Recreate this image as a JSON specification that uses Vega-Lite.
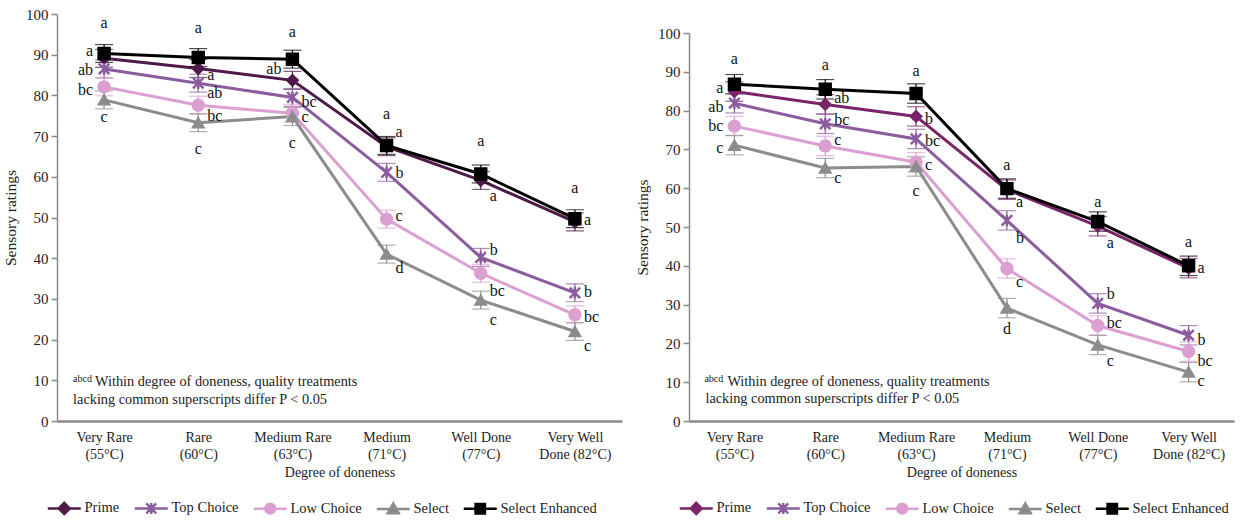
{
  "$schema": "https://vega.github.io/schema/vega-lite/v6.json",
  "background": "white",
  "padding": {"left": 3, "top": 7, "right": 2, "bottom": 2},
  "config": {
    "font": "Liberation Serif",
    "view": {"stroke": null},
    "concat": {"spacing": 13},
    "text": {"font": "Liberation Serif", "fontWeight": "normal"},
    "axis": {"labelFont": "Liberation Serif", "titleFont": "Liberation Serif", "labelFontSize": 14, "titleFontSize": 14, "titleFontWeight": "normal", "labelColor": "#222", "titleColor": "#222", "domainColor": "#8a8a8a", "tickColor": "#8a8a8a", "grid": false},
    "axisX": {"ticks": false, "domainWidth": 2.5, "labelAngle": 0, "labelPadding": 9, "titlePadding": 4, "labelLineHeight": 17, "labelBaseline": "top"},
    "axisY": {"domainWidth": 1.5, "tickSize": 6, "tickWidth": 1.5, "values": [0, 10, 20, 30, 40, 50, 60, 70, 80, 90, 100], "titlePadding": 7, "titleFontSize": 15.5, "labelFontSize": 15, "labelPadding": 3},
    "legend": {"labelFont": "Liberation Serif", "labelFontSize": 14.5, "labelColor": "#222", "orient": "bottom", "direction": "horizontal", "symbolSize": 121, "symbolStrokeWidth": 2.5, "symbolOpacity": 1, "labelOffset": 13, "columnPadding": 9, "offset": 22}
  },
  "datasets": {
    "leftData": [
      {"doneness": "Very Rare (55°C)", "series": "Prime", "rating": 89.1, "se": 2.2},
      {"doneness": "Rare (60°C)", "series": "Prime", "rating": 86.6, "se": 2.2},
      {"doneness": "Medium Rare (63°C)", "series": "Prime", "rating": 83.7, "se": 2.2},
      {"doneness": "Medium (71°C)", "series": "Prime", "rating": 67.4, "se": 2.2},
      {"doneness": "Well Done (77°C)", "series": "Prime", "rating": 59.1, "se": 2.2},
      {"doneness": "Very Well Done (82°C)", "series": "Prime", "rating": 48.9, "se": 2.2},
      {"doneness": "Very Rare (55°C)", "series": "Top Choice", "rating": 86.5, "se": 2.2},
      {"doneness": "Rare (60°C)", "series": "Top Choice", "rating": 83.0, "se": 2.2},
      {"doneness": "Medium Rare (63°C)", "series": "Top Choice", "rating": 79.5, "se": 2.2},
      {"doneness": "Medium (71°C)", "series": "Top Choice", "rating": 61.1, "se": 2.2},
      {"doneness": "Well Done (77°C)", "series": "Top Choice", "rating": 40.2, "se": 2.2},
      {"doneness": "Very Well Done (82°C)", "series": "Top Choice", "rating": 31.5, "se": 2.2},
      {"doneness": "Very Rare (55°C)", "series": "Low Choice", "rating": 82.1, "se": 2.2},
      {"doneness": "Rare (60°C)", "series": "Low Choice", "rating": 77.6, "se": 2.2},
      {"doneness": "Medium Rare (63°C)", "series": "Low Choice", "rating": 75.6, "se": 2.2},
      {"doneness": "Medium (71°C)", "series": "Low Choice", "rating": 49.6, "se": 2.2},
      {"doneness": "Well Done (77°C)", "series": "Low Choice", "rating": 36.3, "se": 2.2},
      {"doneness": "Very Well Done (82°C)", "series": "Low Choice", "rating": 26.1, "se": 2.2},
      {"doneness": "Very Rare (55°C)", "series": "Select", "rating": 78.9, "se": 2.2},
      {"doneness": "Rare (60°C)", "series": "Select", "rating": 73.3, "se": 2.2},
      {"doneness": "Medium Rare (63°C)", "series": "Select", "rating": 74.8, "se": 2.2},
      {"doneness": "Medium (71°C)", "series": "Select", "rating": 41.0, "se": 2.2},
      {"doneness": "Well Done (77°C)", "series": "Select", "rating": 29.7, "se": 2.2},
      {"doneness": "Very Well Done (82°C)", "series": "Select", "rating": 22.0, "se": 2.2},
      {"doneness": "Very Rare (55°C)", "series": "Select Enhanced", "rating": 90.3, "se": 2.2},
      {"doneness": "Rare (60°C)", "series": "Select Enhanced", "rating": 89.3, "se": 2.2},
      {"doneness": "Medium Rare (63°C)", "series": "Select Enhanced", "rating": 88.9, "se": 2.2},
      {"doneness": "Medium (71°C)", "series": "Select Enhanced", "rating": 67.7, "se": 2.2},
      {"doneness": "Well Done (77°C)", "series": "Select Enhanced", "rating": 60.7, "se": 2.2},
      {"doneness": "Very Well Done (82°C)", "series": "Select Enhanced", "rating": 49.7, "se": 2.2}
    ],
    "rightData": [
      {"doneness": "Very Rare (55°C)", "series": "Prime", "rating": 84.9, "se": 2.5},
      {"doneness": "Rare (60°C)", "series": "Prime", "rating": 81.6, "se": 2.5},
      {"doneness": "Medium Rare (63°C)", "series": "Prime", "rating": 78.5, "se": 2.5},
      {"doneness": "Medium (71°C)", "series": "Prime", "rating": 59.6, "se": 2.5},
      {"doneness": "Well Done (77°C)", "series": "Prime", "rating": 50.2, "se": 2.5},
      {"doneness": "Very Well Done (82°C)", "series": "Prime", "rating": 39.4, "se": 2.5},
      {"doneness": "Very Rare (55°C)", "series": "Top Choice", "rating": 81.9, "se": 2.5},
      {"doneness": "Rare (60°C)", "series": "Top Choice", "rating": 76.6, "se": 2.5},
      {"doneness": "Medium Rare (63°C)", "series": "Top Choice", "rating": 72.7, "se": 2.5},
      {"doneness": "Medium (71°C)", "series": "Top Choice", "rating": 51.7, "se": 2.5},
      {"doneness": "Well Done (77°C)", "series": "Top Choice", "rating": 30.3, "se": 2.5},
      {"doneness": "Very Well Done (82°C)", "series": "Top Choice", "rating": 22.1, "se": 2.5},
      {"doneness": "Very Rare (55°C)", "series": "Low Choice", "rating": 76.0, "se": 2.5},
      {"doneness": "Rare (60°C)", "series": "Low Choice", "rating": 70.9, "se": 2.5},
      {"doneness": "Medium Rare (63°C)", "series": "Low Choice", "rating": 66.7, "se": 2.5},
      {"doneness": "Medium (71°C)", "series": "Low Choice", "rating": 39.3, "se": 2.5},
      {"doneness": "Well Done (77°C)", "series": "Low Choice", "rating": 24.6, "se": 2.5},
      {"doneness": "Very Well Done (82°C)", "series": "Low Choice", "rating": 17.9, "se": 2.5},
      {"doneness": "Very Rare (55°C)", "series": "Select", "rating": 71.1, "se": 2.5},
      {"doneness": "Rare (60°C)", "series": "Select", "rating": 65.2, "se": 2.5},
      {"doneness": "Medium Rare (63°C)", "series": "Select", "rating": 65.6, "se": 2.5},
      {"doneness": "Medium (71°C)", "series": "Select", "rating": 29.1, "se": 2.5},
      {"doneness": "Well Done (77°C)", "series": "Select", "rating": 19.6, "se": 2.5},
      {"doneness": "Very Well Done (82°C)", "series": "Select", "rating": 12.6, "se": 2.5},
      {"doneness": "Very Rare (55°C)", "series": "Select Enhanced", "rating": 86.8, "se": 2.5},
      {"doneness": "Rare (60°C)", "series": "Select Enhanced", "rating": 85.5, "se": 2.5},
      {"doneness": "Medium Rare (63°C)", "series": "Select Enhanced", "rating": 84.4, "se": 2.5},
      {"doneness": "Medium (71°C)", "series": "Select Enhanced", "rating": 59.9, "se": 2.5},
      {"doneness": "Well Done (77°C)", "series": "Select Enhanced", "rating": 51.4, "se": 2.5},
      {"doneness": "Very Well Done (82°C)", "series": "Select Enhanced", "rating": 40.0, "se": 2.5}
    ],
    "leftLetters": [
      {"doneness": "Very Rare (55°C)", "letter": "a", "ly": 97.7, "side": "center"},
      {"doneness": "Very Rare (55°C)", "letter": "a", "ly": 90.9, "side": "left"},
      {"doneness": "Very Rare (55°C)", "letter": "ab", "ly": 86.2, "side": "left"},
      {"doneness": "Very Rare (55°C)", "letter": "bc", "ly": 81.3, "side": "left"},
      {"doneness": "Very Rare (55°C)", "letter": "c", "ly": 74.7, "side": "center"},
      {"doneness": "Rare (60°C)", "letter": "a", "ly": 96.5, "side": "center"},
      {"doneness": "Rare (60°C)", "letter": "a", "ly": 85.1, "side": "right"},
      {"doneness": "Rare (60°C)", "letter": "ab", "ly": 80.5, "side": "right"},
      {"doneness": "Rare (60°C)", "letter": "bc", "ly": 75.0, "side": "right"},
      {"doneness": "Rare (60°C)", "letter": "c", "ly": 66.9, "side": "center"},
      {"doneness": "Medium Rare (63°C)", "letter": "a", "ly": 95.5, "side": "center"},
      {"doneness": "Medium Rare (63°C)", "letter": "ab", "ly": 86.5, "side": "left"},
      {"doneness": "Medium Rare (63°C)", "letter": "bc", "ly": 78.3, "side": "right"},
      {"doneness": "Medium Rare (63°C)", "letter": "c", "ly": 74.7, "side": "right"},
      {"doneness": "Medium Rare (63°C)", "letter": "c", "ly": 68.2, "side": "center"},
      {"doneness": "Medium (71°C)", "letter": "a", "ly": 75.5, "side": "center"},
      {"doneness": "Medium (71°C)", "letter": "a", "ly": 71.0, "side": "right"},
      {"doneness": "Medium (71°C)", "letter": "b", "ly": 61.0, "side": "right"},
      {"doneness": "Medium (71°C)", "letter": "c", "ly": 50.4, "side": "right"},
      {"doneness": "Medium (71°C)", "letter": "d", "ly": 37.6, "side": "right"},
      {"doneness": "Well Done (77°C)", "letter": "a", "ly": 68.7, "side": "center"},
      {"doneness": "Well Done (77°C)", "letter": "a", "ly": 55.4, "side": "right"},
      {"doneness": "Well Done (77°C)", "letter": "b", "ly": 41.9, "side": "right"},
      {"doneness": "Well Done (77°C)", "letter": "bc", "ly": 32.0, "side": "right"},
      {"doneness": "Well Done (77°C)", "letter": "c", "ly": 24.9, "side": "right"},
      {"doneness": "Very Well Done (82°C)", "letter": "a", "ly": 57.2, "side": "center"},
      {"doneness": "Very Well Done (82°C)", "letter": "a", "ly": 49.3, "side": "right"},
      {"doneness": "Very Well Done (82°C)", "letter": "b", "ly": 31.8, "side": "right"},
      {"doneness": "Very Well Done (82°C)", "letter": "bc", "ly": 25.5, "side": "right"},
      {"doneness": "Very Well Done (82°C)", "letter": "c", "ly": 18.5, "side": "right"}
    ],
    "rightLetters": [
      {"doneness": "Very Rare (55°C)", "letter": "a", "ly": 93.3, "side": "center"},
      {"doneness": "Very Rare (55°C)", "letter": "a", "ly": 85.7, "side": "left"},
      {"doneness": "Very Rare (55°C)", "letter": "ab", "ly": 81.0, "side": "left"},
      {"doneness": "Very Rare (55°C)", "letter": "bc", "ly": 76.1, "side": "left"},
      {"doneness": "Very Rare (55°C)", "letter": "c", "ly": 70.3, "side": "left"},
      {"doneness": "Rare (60°C)", "letter": "a", "ly": 91.8, "side": "center"},
      {"doneness": "Rare (60°C)", "letter": "ab", "ly": 83.2, "side": "right"},
      {"doneness": "Rare (60°C)", "letter": "bc", "ly": 77.6, "side": "right"},
      {"doneness": "Rare (60°C)", "letter": "c", "ly": 72.4, "side": "right"},
      {"doneness": "Rare (60°C)", "letter": "c", "ly": 62.7, "side": "right"},
      {"doneness": "Medium Rare (63°C)", "letter": "a", "ly": 90.2, "side": "center"},
      {"doneness": "Medium Rare (63°C)", "letter": "b", "ly": 77.8, "side": "right"},
      {"doneness": "Medium Rare (63°C)", "letter": "bc", "ly": 72.2, "side": "right"},
      {"doneness": "Medium Rare (63°C)", "letter": "c", "ly": 66.0, "side": "right"},
      {"doneness": "Medium Rare (63°C)", "letter": "c", "ly": 59.3, "side": "center"},
      {"doneness": "Medium (71°C)", "letter": "a", "ly": 66.0, "side": "center"},
      {"doneness": "Medium (71°C)", "letter": "a", "ly": 56.4, "side": "right"},
      {"doneness": "Medium (71°C)", "letter": "b", "ly": 47.1, "side": "right"},
      {"doneness": "Medium (71°C)", "letter": "c", "ly": 35.9, "side": "right"},
      {"doneness": "Medium (71°C)", "letter": "d", "ly": 23.7, "side": "center"},
      {"doneness": "Well Done (77°C)", "letter": "a", "ly": 56.5, "side": "center"},
      {"doneness": "Well Done (77°C)", "letter": "a", "ly": 46.0, "side": "right"},
      {"doneness": "Well Done (77°C)", "letter": "b", "ly": 32.7, "side": "right"},
      {"doneness": "Well Done (77°C)", "letter": "bc", "ly": 25.2, "side": "right"},
      {"doneness": "Well Done (77°C)", "letter": "c", "ly": 15.5, "side": "right"},
      {"doneness": "Very Well Done (82°C)", "letter": "a", "ly": 46.1, "side": "center"},
      {"doneness": "Very Well Done (82°C)", "letter": "a", "ly": 39.5, "side": "right"},
      {"doneness": "Very Well Done (82°C)", "letter": "b", "ly": 20.9, "side": "right"},
      {"doneness": "Very Well Done (82°C)", "letter": "bc", "ly": 15.5, "side": "right"},
      {"doneness": "Very Well Done (82°C)", "letter": "c", "ly": 10.2, "side": "right"}
    ]
  },
  "hconcat": [
    {
      "width": 565,
      "height": 407,
      "data": {"name": "leftData"},
      "encoding": {
        "x": {"field": "doneness", "type": "nominal", "sort": ["Very Rare (55°C)", "Rare (60°C)", "Medium Rare (63°C)", "Medium (71°C)", "Well Done (77°C)", "Very Well Done (82°C)"], "scale": {"type": "point", "padding": 0.5}, "title": "Degree of doneness", "axis": {"labelExpr": "datum.label == 'Very Well Done (82°C)' ? ['Very Well', 'Done (82°C)'] : split(replace(datum.label, ' (', '|('), '|')"}},
        "y": {"field": "rating", "type": "quantitative", "scale": {"domain": [0, 100], "nice": false}, "title": "Sensory ratings"}
      },
      "layer": [
        {"mark": {"type": "line", "strokeWidth": 3}, "encoding": {"color": {"field": "series", "type": "nominal", "scale": {"domain": ["Select Enhanced", "Select", "Low Choice", "Top Choice", "Prime"], "range": ["#000000", "#8c8c8c", "#dba0d1", "#8b5c9e", "#4e1a47"]}, "legend": null}}},
        {"mark": {"type": "errorbar", "ticks": true, "thickness": 1.2}, "encoding": {"yError": {"field": "se"}, "color": {"field": "series", "type": "nominal", "legend": null}}},
        {"transform": [{"filter": "datum.series == 'Prime'"}], "mark": {"type": "point", "shape": "diamond", "filled": true, "size": 120, "strokeWidth": 2, "opacity": 1}, "encoding": {"fill": {"field": "series", "type": "nominal", "title": null}, "stroke": {"field": "series", "type": "nominal", "title": null}}},
        {"transform": [{"filter": "datum.series == 'Top Choice'"}], "mark": {"type": "point", "shape": "M-1,-1L1,1M-1,1L1,-1M0,-1.1L0,1.1", "filled": true, "size": 110, "strokeWidth": 2.5, "opacity": 1}, "encoding": {"fill": {"field": "series", "type": "nominal", "title": null}, "stroke": {"field": "series", "type": "nominal", "title": null}}},
        {"transform": [{"filter": "datum.series == 'Low Choice'"}], "mark": {"type": "point", "shape": "circle", "filled": true, "size": 130, "strokeWidth": 2, "opacity": 1}, "encoding": {"fill": {"field": "series", "type": "nominal", "title": null}, "stroke": {"field": "series", "type": "nominal", "title": null}}},
        {"transform": [{"filter": "datum.series == 'Select'"}], "mark": {"type": "point", "shape": "triangle-up", "filled": true, "size": 120, "strokeWidth": 2, "opacity": 1}, "encoding": {"fill": {"field": "series", "type": "nominal", "title": null}, "stroke": {"field": "series", "type": "nominal", "title": null}}},
        {"transform": [{"filter": "datum.series == 'Select Enhanced'"}], "mark": {"type": "point", "shape": "square", "filled": true, "size": 130, "strokeWidth": 2, "opacity": 1}, "encoding": {"fill": {"field": "series", "type": "nominal", "title": null}, "stroke": {"field": "series", "type": "nominal", "title": null}}},
        {"transform": [{"filter": "datum.rating > 1000"}], "mark": {"type": "point", "filled": true},
         "encoding": {
           "shape": {"field": "series", "type": "nominal", "title": null, "scale": {"domain": ["Prime", "Top Choice", "Low Choice", "Select", "Select Enhanced"], "range": ["M-3,0H3M0,-1L1,0L0,1L-1,0Z", "M-3,0H3M-0.9,-0.9L0.9,0.9M-0.9,0.9L0.9,-0.9M0,-1L0,1", "M-3,0H3M-0.9,0C-0.9,-0.5,-0.5,-0.9,0,-0.9C0.5,-0.9,0.9,-0.5,0.9,0C0.9,0.5,0.5,0.9,0,0.9C-0.5,0.9,-0.9,0.5,-0.9,0Z", "M-3,0H3M0,-1L1,0.8L-1,0.8Z", "M-3,0H3M-0.85,-0.85H0.85V0.85H-0.85Z"]}},
           "fill": {"field": "series", "type": "nominal", "title": null, "scale": {"domain": ["Prime", "Top Choice", "Low Choice", "Select", "Select Enhanced"], "range": ["#4e1a47", "#8b5c9e", "#dba0d1", "#8c8c8c", "#000000"]}},
           "stroke": {"field": "series", "type": "nominal", "title": null, "scale": {"domain": ["Prime", "Top Choice", "Low Choice", "Select", "Select Enhanced"], "range": ["#4e1a47", "#8b5c9e", "#dba0d1", "#8c8c8c", "#000000"]}}
         }},
        {"data": {"name": "leftLetters"}, "transform": [{"filter": "datum.side == 'center'"}], "mark": {"type": "text", "fontSize": 16, "color": "#111", "baseline": "middle", "align": "center"}, "encoding": {"y": {"field": "ly", "type": "quantitative"}, "text": {"field": "letter"}}},
        {"data": {"name": "leftLetters"}, "transform": [{"filter": "datum.side == 'left'"}], "mark": {"type": "text", "fontSize": 16, "color": "#111", "baseline": "middle", "align": "right", "dx": -11}, "encoding": {"y": {"field": "ly", "type": "quantitative"}, "text": {"field": "letter"}}},
        {"data": {"name": "leftLetters"}, "transform": [{"filter": "datum.side == 'right'"}], "mark": {"type": "text", "fontSize": 16, "color": "#111", "baseline": "middle", "align": "left", "dx": 9}, "encoding": {"y": {"field": "ly", "type": "quantitative"}, "text": {"field": "letter"}}},
        {"transform": [{"filter": "datum.series == 'Prime' && datum.doneness == 'Very Rare (55°C)'"}], "mark": {"type": "text", "align": "left", "baseline": "middle", "fontSize": 10, "dx": -31, "color": "#222", "text": "abcd"}, "encoding": {"y": {"datum": 10.3}}},
        {"transform": [{"filter": "datum.series == 'Prime' && datum.doneness == 'Very Rare (55°C)'"}], "mark": {"type": "text", "align": "left", "baseline": "middle", "fontSize": 14.3, "dx": -9, "color": "#222", "text": "Within degree of doneness, quality treatments"}, "encoding": {"y": {"datum": 9.5}}},
        {"transform": [{"filter": "datum.series == 'Prime' && datum.doneness == 'Very Rare (55°C)'"}], "mark": {"type": "text", "align": "left", "baseline": "middle", "fontSize": 14.3, "dx": -31, "color": "#222", "text": "lacking common superscripts differ P < 0.05"}, "encoding": {"y": {"datum": 5.1}}}
      ]
    },
    {
      "spacing": 0,
      "vconcat": [
        {"width": 545, "height": 12, "data": {"values": []}, "mark": {"type": "point", "opacity": 0}},
        {
          "width": 545,
          "height": 388,
          "data": {"name": "rightData"},
          "encoding": {
            "x": {"field": "doneness", "type": "nominal", "sort": ["Very Rare (55°C)", "Rare (60°C)", "Medium Rare (63°C)", "Medium (71°C)", "Well Done (77°C)", "Very Well Done (82°C)"], "scale": {"type": "point", "padding": 0.5}, "title": "Degree of doneness", "axis": {"labelExpr": "datum.label == 'Very Well Done (82°C)' ? ['Very Well', 'Done (82°C)'] : split(replace(datum.label, ' (', '|('), '|')"}},
            "y": {"field": "rating", "type": "quantitative", "scale": {"domain": [0, 100], "nice": false}, "title": "Sensory ratings"}
          },
          "layer": [
            {"mark": {"type": "line", "strokeWidth": 3}, "encoding": {"color": {"field": "series", "type": "nominal", "scale": {"domain": ["Select Enhanced", "Select", "Low Choice", "Top Choice", "Prime"], "range": ["#000000", "#8c8c8c", "#dba0d1", "#8b5c9e", "#7a2469"]}, "legend": null}}},
            {"mark": {"type": "errorbar", "ticks": true, "thickness": 1.2}, "encoding": {"yError": {"field": "se"}, "color": {"field": "series", "type": "nominal", "legend": null}}},
            {"transform": [{"filter": "datum.series == 'Prime'"}], "mark": {"type": "point", "shape": "diamond", "filled": true, "size": 120, "strokeWidth": 2, "opacity": 1}, "encoding": {"fill": {"field": "series", "type": "nominal", "title": null}, "stroke": {"field": "series", "type": "nominal", "title": null}}},
            {"transform": [{"filter": "datum.series == 'Top Choice'"}], "mark": {"type": "point", "shape": "M-1,-1L1,1M-1,1L1,-1M0,-1.1L0,1.1", "filled": true, "size": 110, "strokeWidth": 2.5, "opacity": 1}, "encoding": {"fill": {"field": "series", "type": "nominal", "title": null}, "stroke": {"field": "series", "type": "nominal", "title": null}}},
            {"transform": [{"filter": "datum.series == 'Low Choice'"}], "mark": {"type": "point", "shape": "circle", "filled": true, "size": 130, "strokeWidth": 2, "opacity": 1}, "encoding": {"fill": {"field": "series", "type": "nominal", "title": null}, "stroke": {"field": "series", "type": "nominal", "title": null}}},
            {"transform": [{"filter": "datum.series == 'Select'"}], "mark": {"type": "point", "shape": "triangle-up", "filled": true, "size": 120, "strokeWidth": 2, "opacity": 1}, "encoding": {"fill": {"field": "series", "type": "nominal", "title": null}, "stroke": {"field": "series", "type": "nominal", "title": null}}},
            {"transform": [{"filter": "datum.series == 'Select Enhanced'"}], "mark": {"type": "point", "shape": "square", "filled": true, "size": 130, "strokeWidth": 2, "opacity": 1}, "encoding": {"fill": {"field": "series", "type": "nominal", "title": null}, "stroke": {"field": "series", "type": "nominal", "title": null}}},
            {"transform": [{"filter": "datum.rating > 1000"}], "mark": {"type": "point", "filled": true},
             "encoding": {
               "shape": {"field": "series", "type": "nominal", "title": null, "scale": {"domain": ["Prime", "Top Choice", "Low Choice", "Select", "Select Enhanced"], "range": ["M-3,0H3M0,-1L1,0L0,1L-1,0Z", "M-3,0H3M-0.9,-0.9L0.9,0.9M-0.9,0.9L0.9,-0.9M0,-1L0,1", "M-3,0H3M-0.9,0C-0.9,-0.5,-0.5,-0.9,0,-0.9C0.5,-0.9,0.9,-0.5,0.9,0C0.9,0.5,0.5,0.9,0,0.9C-0.5,0.9,-0.9,0.5,-0.9,0Z", "M-3,0H3M0,-1L1,0.8L-1,0.8Z", "M-3,0H3M-0.85,-0.85H0.85V0.85H-0.85Z"]}},
               "fill": {"field": "series", "type": "nominal", "title": null, "scale": {"domain": ["Prime", "Top Choice", "Low Choice", "Select", "Select Enhanced"], "range": ["#7a2469", "#8b5c9e", "#dba0d1", "#8c8c8c", "#000000"]}},
               "stroke": {"field": "series", "type": "nominal", "title": null, "scale": {"domain": ["Prime", "Top Choice", "Low Choice", "Select", "Select Enhanced"], "range": ["#7a2469", "#8b5c9e", "#dba0d1", "#8c8c8c", "#000000"]}}
             }},
            {"data": {"name": "rightLetters"}, "transform": [{"filter": "datum.side == 'center'"}], "mark": {"type": "text", "fontSize": 16, "color": "#111", "baseline": "middle", "align": "center"}, "encoding": {"y": {"field": "ly", "type": "quantitative"}, "text": {"field": "letter"}}},
            {"data": {"name": "rightLetters"}, "transform": [{"filter": "datum.side == 'left'"}], "mark": {"type": "text", "fontSize": 16, "color": "#111", "baseline": "middle", "align": "right", "dx": -11}, "encoding": {"y": {"field": "ly", "type": "quantitative"}, "text": {"field": "letter"}}},
            {"data": {"name": "rightLetters"}, "transform": [{"filter": "datum.side == 'right'"}], "mark": {"type": "text", "fontSize": 16, "color": "#111", "baseline": "middle", "align": "left", "dx": 9}, "encoding": {"y": {"field": "ly", "type": "quantitative"}, "text": {"field": "letter"}}},
            {"transform": [{"filter": "datum.series == 'Prime' && datum.doneness == 'Very Rare (55°C)'"}], "mark": {"type": "text", "align": "left", "baseline": "middle", "fontSize": 10, "dx": -30, "color": "#222", "text": "abcd"}, "encoding": {"y": {"datum": 10.9}}},
            {"transform": [{"filter": "datum.series == 'Prime' && datum.doneness == 'Very Rare (55°C)'"}], "mark": {"type": "text", "align": "left", "baseline": "middle", "fontSize": 14.3, "dx": -7, "color": "#222", "text": "Within degree of doneness, quality treatments"}, "encoding": {"y": {"datum": 10.0}}},
            {"transform": [{"filter": "datum.series == 'Prime' && datum.doneness == 'Very Rare (55°C)'"}], "mark": {"type": "text", "align": "left", "baseline": "middle", "fontSize": 14.3, "dx": -29, "color": "#222", "text": "lacking common superscripts differ P < 0.05"}, "encoding": {"y": {"datum": 5.7}}}
          ]
        }
      ]
    }
  ],
  "resolve": {
    "scale": {"x": "independent", "y": "independent", "color": "independent", "fill": "independent", "stroke": "independent", "shape": "independent"}
  }
}
